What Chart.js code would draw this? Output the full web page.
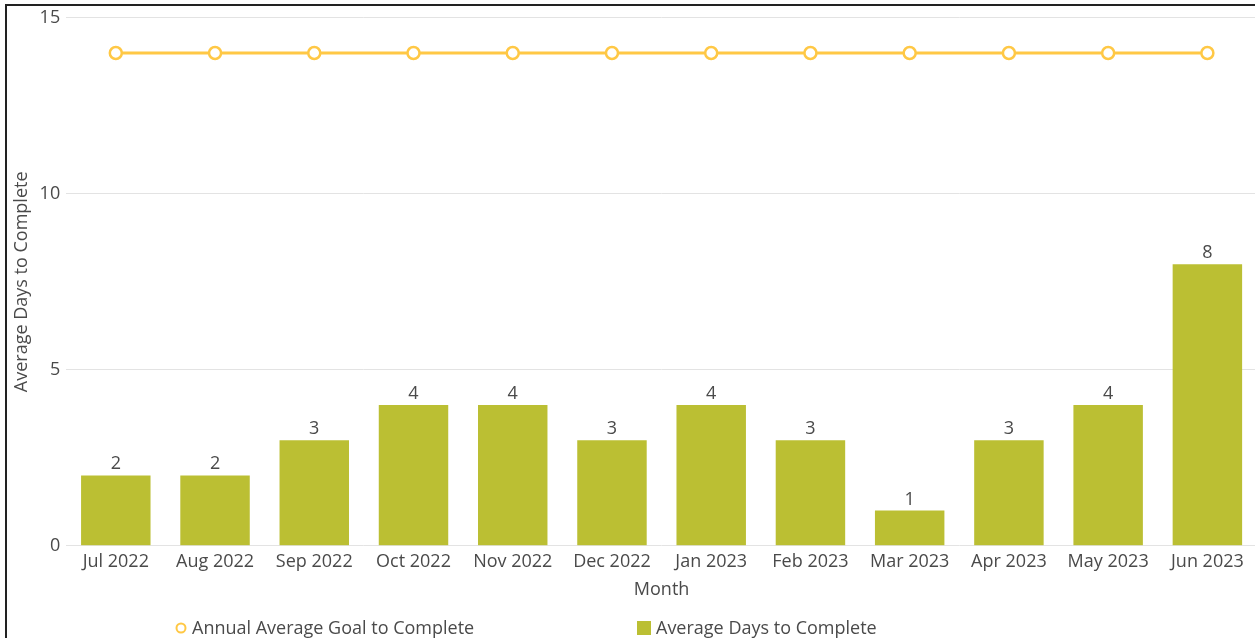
<!DOCTYPE html>
<html lang="en">
<head>
    <meta charset="UTF-8">
    <title>Average Days to Complete</title>
    <script src="https://cdn.jsdelivr.net/npm/chart.js"></script>
    <style>
        html, body { margin: 0; padding: 0; overflow: hidden; background: #fff; }
        #frame {
            position: absolute; left: 5px; top: 4px;
            width: 1300px; height: 700px;
            border-top: 2px solid #222; border-left: 2px solid #222;
        }
        #wrap { position: absolute; left: 0; top: -5px; }
    </style>
</head>
<body>
<div id="frame">
    <div id="wrap"><canvas id="myChart" width="1250" height="660"></canvas></div>
</div>

<script>
    const months = ['Jul 2022', 'Aug 2022', 'Sep 2022', 'Oct 2022', 'Nov 2022', 'Dec 2022',
                    'Jan 2023', 'Feb 2023', 'Mar 2023', 'Apr 2023', 'May 2023', 'Jun 2023'];
    const avgDays = [2, 2, 3, 4, 4, 3, 4, 3, 1, 3, 4, 8];
    const goalDays = [14, 14, 14, 14, 14, 14, 14, 14, 14, 14, 14, 14];
    const yTicks = [0, 5, 10, 15];

    const gold = '#ffc845';
    const olive = '#bbbf33';
    const textColor = '#4a4a4a';
    const fontFamily = '"Open Sans", sans-serif';

    // value labels above the bars
    const barLabels = {
        id: 'barLabels',
        afterDatasetsDraw(chart) {
            const ctx = chart.ctx;
            chart.data.datasets.forEach((ds, i) => {
                if (ds.type !== 'bar') return;
                chart.getDatasetMeta(i).data.forEach((bar, j) => {
                    ctx.save();
                    ctx.font = '18px ' + fontFamily;
                    ctx.fillStyle = textColor;
                    ctx.textAlign = 'center';
                    ctx.textBaseline = 'alphabetic';
                    ctx.fillText(String(ds.data[j]), bar.x, bar.y - 6);
                    ctx.restore();
                });
            });
        }
    };

    // legend laid out in fixed-width cells, centred under the chart
    const cellLegend = {
        id: 'cellLegend',
        afterDraw(chart) {
            const ctx = chart.ctx;
            const cell = 461;
            const sets = chart.data.datasets;
            let x = (chart.width - cell * sets.length) / 2;
            const y = chart.scales.x.bottom + 23;
            ctx.save();
            ctx.font = '18px ' + fontFamily;
            ctx.textBaseline = 'middle';
            ctx.textAlign = 'left';
            sets.forEach(ds => {
                let textX;
                if (ds.type === 'line') {
                    ctx.beginPath();
                    ctx.arc(x + 10, y, 4.5, 0, Math.PI * 2);
                    ctx.fillStyle = '#fff';
                    ctx.fill();
                    ctx.lineWidth = 2;
                    ctx.strokeStyle = ds.borderColor;
                    ctx.stroke();
                    textX = x + 21;
                } else {
                    ctx.fillStyle = ds.backgroundColor;
                    ctx.fillRect(x + 5, y - 7, 14, 14);
                    textX = x + 24;
                }
                ctx.fillStyle = textColor;
                ctx.fillText(ds.label, textX, y + 1);
                x += cell;
            });
            ctx.restore();
        }
    };

    const ctx = document.getElementById('myChart').getContext('2d');
    new Chart(ctx, {
        data: {
            labels: months,
            datasets: [{
                type: 'line',
                label: 'Annual Average Goal to Complete',
                data: goalDays,
                borderColor: gold,
                borderWidth: 3,
                pointRadius: 6,
                pointBorderWidth: 2.5,
                pointBackgroundColor: '#fff',
                pointBorderColor: gold,
                tension: 0,
                order: 0
            }, {
                type: 'bar',
                label: 'Average Days to Complete',
                data: avgDays,
                backgroundColor: olive,
                categoryPercentage: 1,
                barPercentage: 0.7,
                order: 1
            }]
        },
        options: {
            responsive: false,
            animation: false,
            layout: { autoPadding: false, padding: { bottom: 56, right: 0 } },
            plugins: {
                legend: { display: false },
                tooltip: { enabled: false }
            },
            scales: {
                x: {
                    grid: { display: false, drawTicks: false },
                    border: { display: false },
                    ticks: { color: textColor, padding: 5, font: { family: fontFamily, size: 18 } },
                    title: {
                        display: true, text: 'Month', color: textColor,
                        padding: { top: 2, bottom: 4 },
                        font: { family: fontFamily, size: 18 }
                    }
                },
                y: {
                    min: 0,
                    max: 15,
                    afterBuildTicks(scale) { scale.ticks = yTicks.map(v => ({ value: v })); },
                    grid: { color: '#e3e3e3', drawTicks: false },
                    border: { display: false },
                    ticks: { color: textColor, padding: 6, font: { family: fontFamily, size: 18 } },
                    title: {
                        display: true, text: 'Average Days to Complete', color: textColor,
                        padding: { top: 4, bottom: 1 },
                        font: { family: fontFamily, size: 18 }
                    }
                }
            }
        },
        plugins: [barLabels, cellLegend]
    });
</script>
</body>
</html>
